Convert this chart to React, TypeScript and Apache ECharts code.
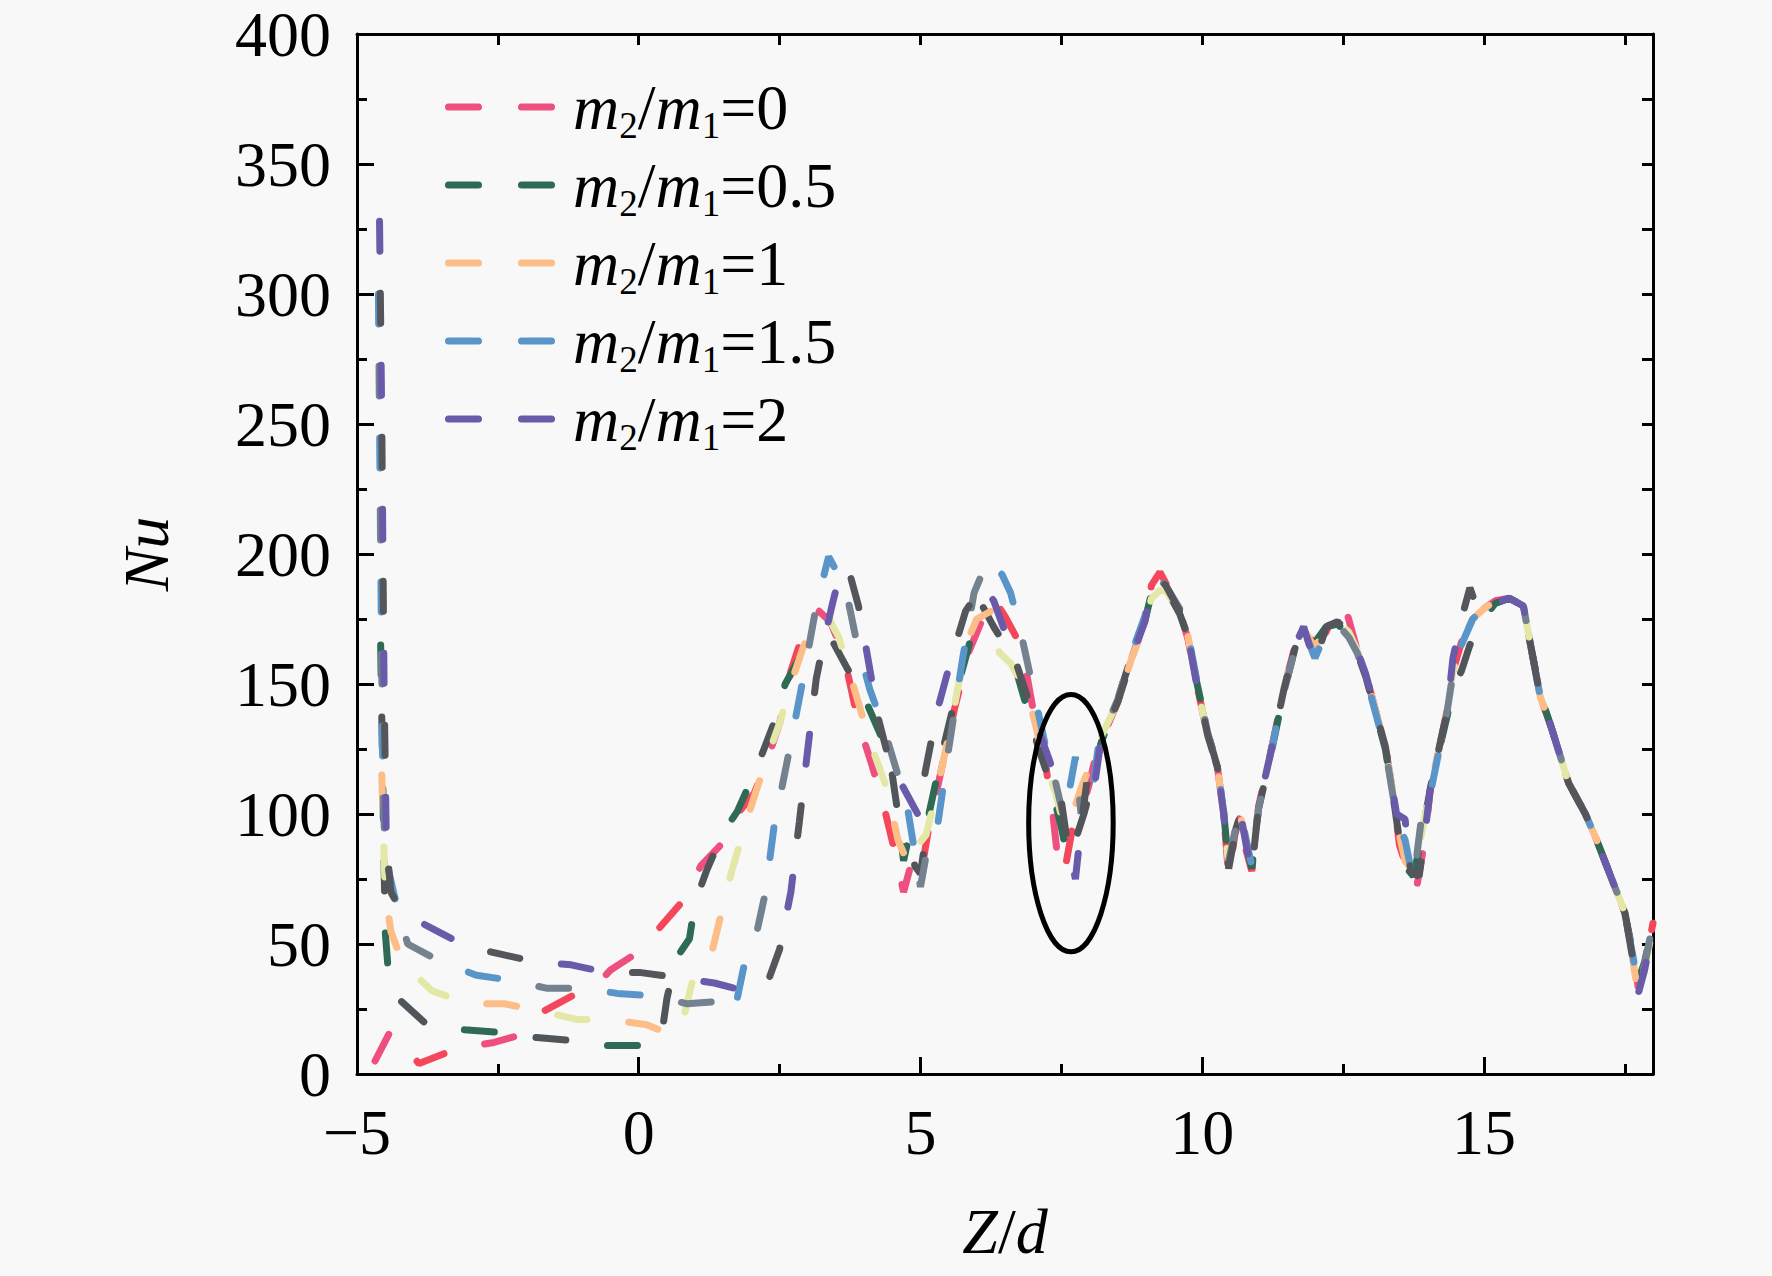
import { useEffect, useRef } from 'react';
import * as echarts from 'echarts';

// Nu along Z/d for each mass-flow ratio m2/m1
const ratioLabels = ['0', '0.5', '1', '1.5', '2'];

const nuRatio0: number[][] = [
  [-4.68, 5], [-4.42, 16], [-4.3, 14], [-3.9, 4], [-3.2, 10], [-2.6, 12], [-2.1, 15], [-1.7, 24], [-1.1, 31],
  [-0.8, 33], [-0.5, 40], [0, 47], [0.4, 57], [0.8, 67], [1.1, 80], [1.45, 88], [1.75, 100], [2.05, 108],
  [2.3, 122], [2.5, 135], [2.7, 155], [2.85, 165], [3.0, 170], [3.2, 178], [3.4, 174], [3.55, 166], [3.7, 155],
  [3.9, 135], [4.15, 118], [4.35, 103], [4.55, 85], [4.7, 70], [4.85, 82], [5.0, 76], [5.15, 95], [5.35, 115],
  [5.6, 140], [5.85, 162], [6.1, 175], [6.3, 183], [6.5, 176], [6.7, 168], [6.85, 158], [7.0, 140], [7.2, 122],
  [7.35, 100], [7.45, 80], [7.55, 77], [7.7, 95], [7.85, 100], [8.0, 112], [8.15, 126],
  [8.3, 133], [8.5, 143], [8.75, 160], [8.98, 175], [9.1, 188], [9.25, 193], [9.35, 189], [9.6, 178], [9.75, 167],
  [9.9, 150], [10.1, 130], [10.27, 118], [10.38, 100], [10.47, 76], [10.58, 92], [10.68, 100], [10.78, 86],
  [10.88, 78], [11.0, 103], [11.2, 122], [11.45, 148], [11.65, 165], [11.8, 172], [12.0, 165], [12.2, 170],
  [12.35, 178], [12.52, 181], [12.65, 171], [12.75, 163], [12.9, 154], [13.1, 138], [13.25, 126], [13.4, 106],
  [13.5, 88], [13.65, 78], [13.8, 71], [13.95, 90], [14.05, 110], [14.2, 125], [14.35, 140], [14.45, 155],
  [14.6, 166], [14.8, 175], [15.0, 179], [15.2, 182], [15.45, 183], [15.7, 180], [15.8, 168], [16.0, 145],
  [16.2, 133], [16.5, 112], [16.8, 100], [17.0, 90], [17.25, 76], [17.5, 62], [17.62, 48], [17.74, 33],
  [17.85, 42], [18.0, 58],
];

const nuRatio05: number[][] = [
  [-4.58, 165], [-4.53, 95], [-4.5, 55], [-4.45, 41], [-4.27, 29], [-3.76, 19], [-3.09, 17], [-2.47, 16],
  [-1.81, 14], [-1.23, 13], [-0.58, 11], [0.04, 11], [0.4, 14], [0.5, 29], [0.65, 44], [0.9, 52], [1.0, 66],
  [1.2, 78], [1.5, 93], [1.75, 101], [2.1, 118], [2.4, 135], [2.6, 150], [2.85, 160], [3.1, 165], [3.45, 166],
  [3.7, 156], [4.0, 145], [4.3, 130], [4.5, 115], [4.6, 100], [4.7, 82], [4.8, 92], [4.9, 80], [5.0, 77],
  [5.15, 100], [5.4, 125], [5.7, 152], [5.95, 172], [6.1, 180], [6.3, 172], [6.5, 165], [6.7, 155], [6.9, 140],
  [7.1, 125], [7.3, 112], [7.5, 95], [7.6, 84], [7.75, 90], [7.9, 100], [8.05, 112], [8.2, 127],
  [8.3, 133], [8.5, 144], [8.75, 161], [8.98, 174], [9.1, 185], [9.25, 189], [9.35, 187], [9.6, 177], [9.75, 168],
  [9.9, 151], [10.1, 131], [10.27, 118], [10.38, 101], [10.47, 80], [10.58, 93], [10.68, 100], [10.78, 88],
  [10.88, 79], [11.0, 102], [11.2, 121], [11.45, 147], [11.65, 164], [11.8, 171], [12.0, 166], [12.2, 172],
  [12.4, 173], [12.6, 169], [12.75, 162], [12.9, 153], [13.1, 137], [13.25, 125], [13.4, 105], [13.5, 90],
  [13.6, 80], [13.75, 76], [13.9, 92], [14.05, 110], [14.2, 124], [14.35, 138], [14.45, 148], [14.6, 155],
  [14.75, 165], [14.95, 174], [15.2, 181], [15.45, 183], [15.7, 180], [15.8, 168], [16.0, 146], [16.2, 133],
  [16.5, 112], [16.8, 100], [17.0, 90], [17.25, 76], [17.5, 62], [17.62, 49], [17.74, 36], [17.85, 43], [18.0, 58],
];

const nuRatio1: number[][] = [
  [-4.56, 115], [-4.5, 70], [-4.4, 55], [-4.2, 43], [-3.67, 32], [-3.03, 27], [-2.38, 27], [-1.7, 24],
  [-1.1, 21], [-0.56, 21], [0.13, 19], [0.6, 15], [0.8, 22], [1.0, 40], [1.3, 47], [1.5, 65], [1.65, 78],
  [1.95, 100], [2.25, 120], [2.5, 135], [2.7, 150], [2.9, 163], [3.1, 174], [3.35, 176], [3.55, 168], [3.8, 150],
  [4.1, 128], [4.4, 110], [4.6, 90], [4.8, 80], [4.95, 88], [5.1, 92], [5.3, 110], [5.55, 135], [5.8, 165],
  [6.0, 175], [6.25, 178], [6.4, 162], [6.6, 158], [6.8, 150], [7.0, 138], [7.2, 120], [7.4, 108], [7.55, 95],
  [7.7, 100], [7.85, 110], [8.0, 118], [8.15, 127],
  [8.3, 134], [8.5, 143], [8.75, 160], [8.98, 173], [9.1, 183], [9.25, 186], [9.35, 186], [9.6, 178], [9.75, 168],
  [9.9, 150], [10.1, 130], [10.27, 118], [10.38, 100], [10.47, 80], [10.58, 92], [10.68, 99], [10.78, 90],
  [10.88, 80], [11.0, 103], [11.2, 122], [11.45, 148], [11.65, 165], [11.8, 171], [12.0, 164], [12.2, 172],
  [12.4, 174], [12.6, 170], [12.75, 163], [12.9, 154], [13.1, 138], [13.25, 126], [13.4, 106], [13.5, 92],
  [13.6, 82], [13.75, 78], [13.9, 93], [14.05, 110], [14.2, 125], [14.35, 140], [14.45, 155], [14.6, 166],
  [14.8, 175], [15.0, 179], [15.2, 182], [15.45, 184], [15.7, 180], [15.8, 168], [16.0, 145], [16.2, 133],
  [16.5, 112], [16.8, 100], [17.0, 90], [17.25, 76], [17.5, 62], [17.62, 47], [17.74, 30], [17.85, 40], [18.0, 57],
];

const nuRatio15: number[][] = [
  [-4.62, 300], [-4.58, 200], [-4.54, 110], [-4.5, 84], [-4.3, 65], [-4.1, 50], [-3.5, 43], [-2.88, 38],
  [-2.26, 36], [-1.64, 33], [-1.0, 33], [-0.38, 31], [0.27, 30], [0.86, 27], [1.48, 28], [1.7, 24], [1.9, 45],
  [2.1, 55], [2.25, 70], [2.4, 95], [2.65, 122], [2.9, 150], [3.15, 180], [3.37, 199], [3.67, 187], [3.85, 168],
  [4.1, 148], [4.35, 133], [4.6, 115], [4.75, 105], [4.9, 85], [5.0, 72], [5.15, 90], [5.3, 95], [5.5, 125],
  [5.75, 160], [5.95, 185], [6.2, 198], [6.45, 192], [6.6, 185], [6.8, 168], [7.0, 148], [7.2, 128], [7.4, 112],
  [7.55, 98], [7.65, 110], [7.75, 122], [7.85, 100], [7.95, 112], [8.05, 108], [8.15, 125],
  [8.3, 134], [8.5, 144], [8.75, 162], [8.98, 176], [9.1, 186], [9.25, 190], [9.35, 188], [9.6, 179], [9.75, 169],
  [9.9, 152], [10.1, 131], [10.27, 119], [10.38, 101], [10.47, 82], [10.58, 93], [10.68, 101], [10.78, 90],
  [10.88, 80], [11.0, 102], [11.2, 122], [11.45, 147], [11.65, 164], [11.8, 171], [12.0, 160], [12.2, 170],
  [12.4, 173], [12.6, 168], [12.75, 162], [12.9, 153], [13.1, 137], [13.25, 125], [13.4, 105], [13.5, 95],
  [13.6, 90], [13.75, 74], [13.9, 100], [14.05, 108], [14.2, 124], [14.35, 140], [14.45, 154], [14.6, 165],
  [14.8, 175], [15.0, 179], [15.2, 182], [15.45, 183], [15.7, 180], [15.8, 168], [16.0, 145], [16.2, 133],
  [16.5, 112], [16.8, 100], [17.0, 90], [17.25, 76], [17.5, 62], [17.62, 48], [17.74, 34], [17.85, 42], [18.0, 58],
];

const nuRatio2: number[][] = [
  [-4.6, 328], [-4.56, 250], [-4.52, 150], [-4.48, 90], [-4.4, 70], [-4.2, 62], [-3.67, 56], [-3.05, 49],
  [-2.43, 46], [-1.81, 43], [-1.2, 42], [-0.56, 39], [0.04, 39], [0.7, 37], [1.34, 35], [1.87, 32], [2.3, 36],
  [2.5, 48], [2.7, 70], [2.85, 97], [3.0, 125], [3.15, 152], [3.3, 168], [3.45, 182], [3.6, 195], [3.75, 192],
  [3.9, 180], [4.05, 162], [4.25, 137], [4.45, 120], [4.7, 110], [4.95, 100], [5.1, 118], [5.3, 140], [5.55, 160],
  [5.8, 178], [6.1, 188], [6.3, 182], [6.5, 170], [6.7, 158], [6.9, 145], [7.1, 132], [7.3, 120], [7.5, 105],
  [7.6, 90], [7.75, 75], [7.85, 95], [7.95, 112], [8.05, 105], [8.2, 128],
  [8.3, 133], [8.5, 143], [8.75, 160], [8.98, 174], [9.1, 186], [9.25, 190], [9.35, 188], [9.6, 178], [9.75, 168],
  [9.9, 150], [10.1, 130], [10.27, 118], [10.38, 100], [10.47, 79], [10.58, 92], [10.68, 100], [10.78, 88],
  [10.88, 78], [11.0, 103], [11.2, 122], [11.45, 148], [11.65, 165], [11.8, 172], [12.0, 158], [12.2, 172],
  [12.4, 174], [12.6, 170], [12.75, 163], [12.9, 154], [13.1, 138], [13.25, 126], [13.45, 100], [13.6, 98],
  [13.7, 78], [13.85, 76], [13.95, 92], [14.05, 110], [14.2, 125], [14.35, 140], [14.45, 160], [14.6, 175],
  [14.75, 187], [14.9, 178], [15.2, 181], [15.45, 183], [15.7, 180], [15.8, 168], [16.0, 145], [16.2, 133],
  [16.5, 112], [16.8, 100], [17.0, 90], [17.25, 76], [17.5, 62], [17.62, 47], [17.74, 31], [17.85, 40], [18.0, 56],
];

// circled region: centre (Z/d, Nu) and half-extent (Z/d, Nu)
const ellipseMark = [[7.67, 96.5, 0.75, 49.5]];

const seriesData = [nuRatio0, nuRatio05, nuRatio1, nuRatio15, nuRatio2];
const mainColors = ['#ee4f7e', '#2e6a55', '#fcbd87', '#5a95c9', '#6a5aaa'];
const altColors = ['#f5475c', '#50555a', '#e4e8a6', '#74818f', '#55565c'];

const FONT = '"Liberation Serif", "Times New Roman", serif';
const DASH = 30;
const GAP = 42;

// two short rounded dashes, used as the legend sample
const DASH_ICON =
  'path://M3.5,0 H33.5 A3.5,3.5 0 0 1 33.5,7 H3.5 A3.5,3.5 0 0 1 3.5,0 Z ' +
  'M76.5,0 H106.5 A3.5,3.5 0 0 1 106.5,7 H76.5 A3.5,3.5 0 0 1 76.5,0 Z';

export default function App() {
  const chartRef = useRef<HTMLDivElement>(null);

  useEffect(() => {
    if (!chartRef.current) return;
    const chart = echarts.init(chartRef.current, undefined, { renderer: 'svg' });

    const names = ratioLabels.map((r) => `m2/m1=${r}`);

    // each curve alternates two colours dash by dash: two layers with offset patterns
    const layer = (name: string, data: number[][], color: string, offset: number) => ({
      type: 'line',
      name,
      data,
      xAxisIndex: 0,
      yAxisIndex: 0,
      symbol: 'none',
      showSymbol: false,
      silent: true,
      itemStyle: { color },
      lineStyle: {
        color,
        width: 7,
        type: [DASH, DASH + 2 * GAP],
        dashOffset: offset,
        cap: 'round',
      },
    });

    const lineSeries: any[] = [];
    seriesData.forEach((d, i) => {
      lineSeries.push(layer(names[i], d, mainColors[i], 0));
      lineSeries.push(layer(names[i], d, altColors[i], DASH + GAP));
    });

    const subRich = {
      i: { fontFamily: FONT, fontSize: 64, fontStyle: 'italic', color: '#000', lineHeight: 74 },
      n: { fontFamily: FONT, fontSize: 64, color: '#000', lineHeight: 74 },
      s: { fontFamily: FONT, fontSize: 37, color: '#000', lineHeight: 34, verticalAlign: 'bottom' },
    };

    const axisLine = { show: true, onZero: false, lineStyle: { color: '#000', width: 3 } };
    const tick = (length: number) => ({
      show: true,
      inside: true,
      length,
      lineStyle: { color: '#000', width: 3 },
    });

    const option = {
      animation: false,
      backgroundColor: '#f8f8f8',
      grid: [
        { left: 357, top: 34, width: 1296, height: 1040 },
        { left: 357, top: 34, width: 1296, height: 1040 },
      ],
      legend: {
        left: 440,
        top: 70,
        orient: 'vertical',
        icon: DASH_ICON,
        itemWidth: 110,
        itemHeight: 7,
        itemGap: 9,
        selectedMode: false,
        data: names,
        formatter: (name: string) => {
          const r = name.split('=')[1];
          return `{i|m}{s|2}{n|/}{i|m}{s|1}{n|=${r}}`;
        },
        textStyle: { fontFamily: FONT, fontSize: 64, color: '#000', padding: [0, 0, 0, 13], rich: subRich },
      },
      xAxis: [
        {
          type: 'value',
          gridIndex: 0,
          position: 'bottom',
          min: -5,
          max: 18,
          interval: 5,
          name: '{i|Z}{n|/}{i|d}',
          nameLocation: 'middle',
          nameGap: 120,
          nameTextStyle: { rich: subRich },
          axisLine,
          axisTick: tick(17),
          axisLabel: {
            show: true,
            margin: 26,
            showMaxLabel: false,
            fontFamily: FONT,
            fontSize: 64,
            color: '#000',
            formatter: (v: number) => (v < 0 ? '\u2212' + Math.abs(v) : String(v)),
          },
          splitLine: { show: false },
        },
        {
          type: 'value',
          gridIndex: 0,
          position: 'top',
          min: -5,
          max: 18,
          interval: 2.5,
          axisLine,
          axisTick: tick(11),
          axisLabel: { show: false },
          splitLine: { show: false },
        },
        {
          type: 'value',
          gridIndex: 1,
          position: 'bottom',
          min: -5,
          max: 18,
          interval: 2.5,
          axisLine: { show: false, onZero: false },
          axisTick: tick(10),
          axisLabel: { show: false },
          splitLine: { show: false },
        },
      ],
      yAxis: [
        {
          type: 'value',
          gridIndex: 0,
          position: 'left',
          min: 0,
          max: 400,
          interval: 50,
          name: 'Nu',
          nameLocation: 'middle',
          nameRotate: 90,
          nameGap: 179,
          nameTextStyle: { fontFamily: FONT, fontSize: 64, fontStyle: 'italic', color: '#000' },
          axisLine,
          axisTick: tick(17),
          minorTick: { show: true, splitNumber: 2, length: 10, lineStyle: { color: '#000', width: 3 } },
          axisLabel: { show: true, margin: 26, fontFamily: FONT, fontSize: 64, color: '#000' },
          splitLine: { show: false },
          minorSplitLine: { show: false },
        },
        {
          type: 'value',
          gridIndex: 0,
          position: 'right',
          min: 0,
          max: 400,
          interval: 25,
          axisLine,
          axisTick: tick(11),
          axisLabel: { show: false },
          splitLine: { show: false },
        },
        { type: 'value', gridIndex: 1, min: 0, max: 400, show: false },
      ],
      series: [
        ...lineSeries,
        {
          type: 'custom',
          name: 'circled',
          xAxisIndex: 0,
          yAxisIndex: 0,
          silent: true,
          clip: false,
          z: 10,
          data: ellipseMark,
          encode: { x: 0, y: 1 },
          renderItem: (_params: any, api: any) => {
            const c = api.coord([api.value(0), api.value(1)]);
            const s = api.size([api.value(2), api.value(3)]);
            return {
              type: 'ellipse',
              shape: { cx: c[0], cy: c[1], rx: s[0], ry: s[1] },
              style: { fill: 'none', stroke: '#000', lineWidth: 5 },
            };
          },
        },
      ],
    };

    chart.setOption(option);

    return () => {
      chart.dispose();
    };
  }, []);

  return (
    <div
      ref={chartRef}
      style={{ position: 'fixed', left: 0, top: 0, width: 1772, height: 1276, background: '#f8f8f8' }}
    />
  );
}
